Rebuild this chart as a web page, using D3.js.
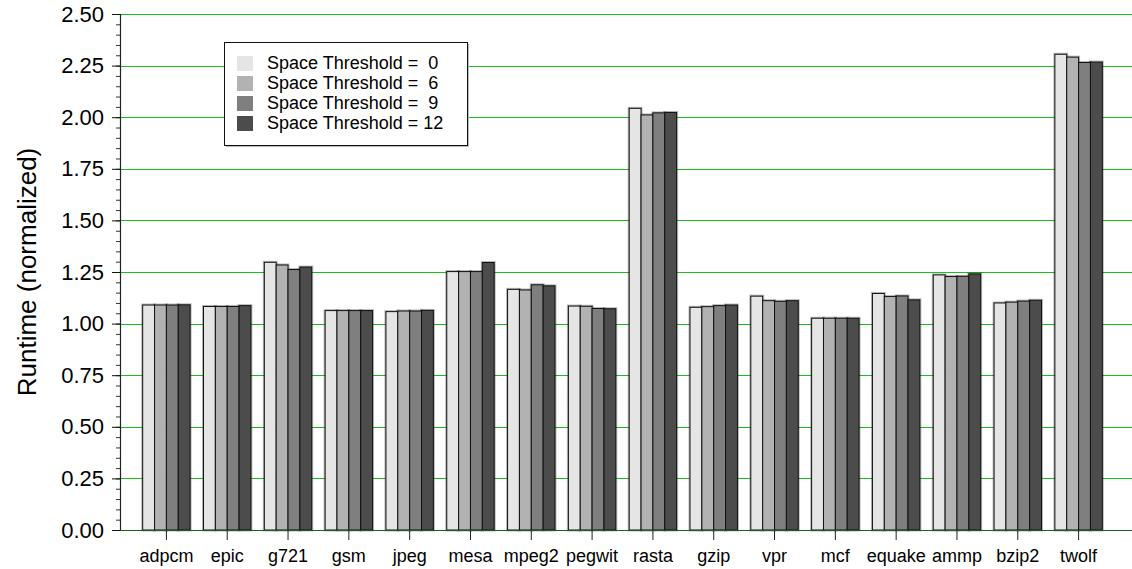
<!DOCTYPE html>
<html>
<head>
<meta charset="utf-8">
<script src="https://cdn.jsdelivr.net/npm/d3@7/dist/d3.min.js"></script>
<style>
  html, body { margin: 0; padding: 0; background: #fff; }
  svg { display: block; font-family: "Liberation Sans", Arial, sans-serif; }
</style>
</head>
<body>
<svg id="chart" width="1132" height="569"></svg>
<script>
// Benchmarks on the x axis
const categories = ["adpcm", "epic", "g721", "gsm", "jpeg", "mesa", "mpeg2", "pegwit",
  "rasta", "gzip", "vpr", "mcf", "equake", "ammp", "bzip2", "twolf"];

// Normalized runtime per space threshold setting
const seriesNames = ["Space Threshold =  0", "Space Threshold =  6", "Space Threshold =  9", "Space Threshold = 12"];
const threshold0  = [1.090, 1.083, 1.297, 1.063, 1.058, 1.252, 1.166, 1.085, 2.043, 1.079, 1.133, 1.026, 1.146, 1.236, 1.100, 2.305];
const threshold6  = [1.090, 1.083, 1.284, 1.063, 1.061, 1.252, 1.163, 1.084, 2.011, 1.082, 1.111, 1.026, 1.131, 1.228, 1.104, 2.291];
const threshold9  = [1.090, 1.083, 1.262, 1.063, 1.061, 1.252, 1.188, 1.073, 2.021, 1.087, 1.108, 1.026, 1.134, 1.229, 1.109, 2.265];
const threshold12 = [1.091, 1.087, 1.274, 1.063, 1.064, 1.296, 1.183, 1.072, 2.023, 1.090, 1.111, 1.026, 1.115, 1.241, 1.113, 2.267];
const seriesValues = [threshold0, threshold6, threshold9, threshold12];
const seriesColors = ["#e5e5e5", "#b2b2b2", "#7f7f7f", "#4c4c4c"];

const yTicks = [0, 0.25, 0.5, 0.75, 1.0, 1.25, 1.5, 1.75, 2.0, 2.25, 2.5];

const svg = d3.select("#chart");
const plot = { left: 120, right: 1132, top: 14, bottom: 530 };
const fontFamily = "'Liberation Sans', Arial, sans-serif";

const y = d3.scaleLinear().domain([0, 2.5]).range([plot.bottom, plot.top]);
const x0 = d3.scaleBand().domain(categories).range([136, 1109]).paddingInner(0.22).paddingOuter(0.11);
const x1 = d3.scaleBand().domain(d3.range(seriesNames.length)).range([0, x0.bandwidth()]);

// Horizontal grid lines
svg.append("g")
  .selectAll("line")
  .data(yTicks)
  .join("line")
  .attr("x1", plot.left).attr("x2", plot.right)
  .attr("y1", d => Math.round(y(d)) + 0.5).attr("y2", d => Math.round(y(d)) + 0.5)
  .attr("stroke", "#1cbf1c").attr("stroke-width", 1.2);

// Bars
const groups = svg.append("g")
  .selectAll("g")
  .data(categories)
  .join("g")
  .attr("transform", d => `translate(${x0(d)},0)`);

groups.each(function (cat, ci) {
  const g = d3.select(this);
  const rows = seriesValues.map((vals, si) => ({ si, v: vals[ci] }));
  // soft halo around each bar
  g.selectAll("rect.halo")
    .data(rows)
    .join("rect")
    .attr("class", "halo")
    .attr("x", d => x1(d.si))
    .attr("y", d => y(d.v))
    .attr("width", x1.bandwidth())
    .attr("height", d => y(0) - y(d.v))
    .attr("fill", "none")
    .attr("stroke", "rgba(0,0,0,0.28)")
    .attr("stroke-width", 3);
  g.selectAll("rect.bar")
    .data(rows)
    .join("rect")
    .attr("class", "bar")
    .attr("x", d => x1(d.si))
    .attr("y", d => y(d.v))
    .attr("width", x1.bandwidth())
    .attr("height", d => y(0) - y(d.v))
    .attr("fill", d => seriesColors[d.si])
    .attr("stroke", "#111")
    .attr("stroke-width", 1);
});

// Y axis with major and minor ticks
const yAxisG = svg.append("g").attr("transform", `translate(${plot.left},0)`);
yAxisG.call(d3.axisLeft(y).tickValues(d3.range(0, 2.5001, 0.05)).tickSize(4).tickFormat(""))
  .call(g => g.select(".domain").remove())
  .call(g => g.selectAll("line").attr("stroke", "#333"));
yAxisG.append("g")
  .call(d3.axisLeft(y).tickValues(yTicks).tickSize(8).tickPadding(8).tickFormat(d3.format(".2f")))
  .call(g => g.select(".domain").remove())
  .call(g => g.selectAll("line").attr("stroke", "#111"))
  .call(g => g.selectAll("text").attr("font-size", 22).attr("fill", "#000")
    .attr("font-family", fontFamily));
svg.append("line")
  .attr("x1", plot.left + 0.5).attr("x2", plot.left + 0.5)
  .attr("y1", plot.top).attr("y2", plot.bottom)
  .attr("stroke", "#222").attr("stroke-width", 1.2);

// X axis
const xAxisG = svg.append("g").attr("transform", `translate(0,${plot.bottom})`);
xAxisG.call(d3.axisBottom(x0).tickSize(10).tickPadding(9).tickSizeOuter(0))
  .call(g => g.select(".domain").remove())
  .call(g => g.selectAll("line").attr("stroke", "#222"))
  .call(g => g.selectAll("text").attr("font-size", 18).attr("fill", "#000")
    .attr("font-family", fontFamily));
svg.append("line")
  .attr("x1", plot.left).attr("x2", plot.right)
  .attr("y1", plot.bottom + 0.5).attr("y2", plot.bottom + 0.5)
  .attr("stroke", "#1e5e1e").attr("stroke-width", 1.2);

// Y axis title
svg.append("text")
  .attr("transform", `translate(29,${(plot.top + plot.bottom) / 2}) rotate(-90)`)
  .attr("text-anchor", "middle")
  .attr("dominant-baseline", "middle")
  .attr("font-size", 26)
  .text("Runtime (normalized)");

// Legend
const legend = svg.append("g").attr("transform", "translate(224,42)");
legend.append("rect")
  .attr("x", 2).attr("y", 2).attr("width", 243).attr("height", 103)
  .attr("fill", "#bbb");
legend.append("rect")
  .attr("x", 0.5).attr("y", 0.5).attr("width", 243).attr("height", 103)
  .attr("fill", "#fff").attr("stroke", "#111").attr("stroke-width", 1);
const items = legend.selectAll("g.item")
  .data(seriesNames)
  .join("g")
  .attr("class", "item")
  .attr("transform", (d, i) => `translate(0,${14 + i * 20})`);
items.append("rect")
  .attr("x", 13).attr("y", 0).attr("width", 16).attr("height", 15)
  .attr("fill", (d, i) => seriesColors[i]);
items.append("text")
  .attr("x", 43).attr("y", 8)
  .attr("dominant-baseline", "middle")
  .attr("font-size", 18)
  .attr("xml:space", "preserve")
  .style("white-space", "pre")
  .text(d => d);
</script>
</body>
</html>
